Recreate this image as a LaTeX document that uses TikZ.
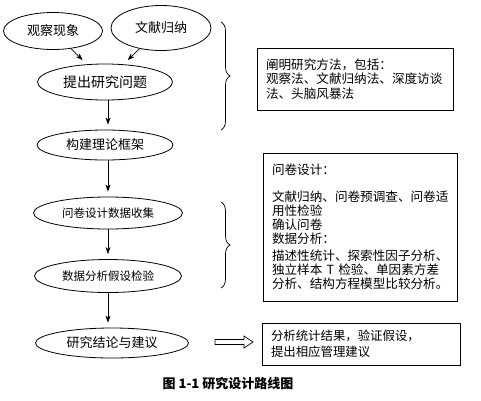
\documentclass[tikz,border=0pt]{standalone}
\usepackage{fontspec}
\setmainfont{Noto Sans CJK SC}
\usetikzlibrary{shapes.geometric,arrows.meta,decorations.pathreplacing,calc}
\begin{document}
\begin{tikzpicture}[x=1pt,y=-1pt,
  ell/.style={draw,ellipse,line width=0.8pt,inner sep=0pt},
  txtbox/.style={draw,rectangle,line width=0.8pt,align=left,inner xsep=9pt,inner ysep=0pt,
    font=\fontsize{12.6}{14.5}\selectfont},
  arr/.style={line width=0.7pt,-{Stealth[length=7pt,width=5pt,inset=2pt]},shorten >=5pt},
  brc/.style={line width=0.7pt,decorate,decoration={brace,amplitude=9pt}}]
\useasboundingbox (0,0) rectangle (481,400);

\node[ell,minimum width=99,minimum height=37,font=\fontsize{13}{13}\selectfont] (obs) at (53,31) {观察现象};
\node[ell,minimum width=100,minimum height=45,font=\fontsize{13}{13}\selectfont] (lit) at (161,28) {文献归纳};
\node[ell,minimum width=135,minimum height=36,font=\fontsize{14}{14}\selectfont] (ask) at (105,82) {提出研究问题};
\node[ell,minimum width=136,minimum height=30,font=\fontsize{13}{13}\selectfont] (build) at (105,145) {构建理论框架};
\node[ell,minimum width=149,minimum height=32,font=\fontsize{11.5}{11.5}\selectfont] (quest) at (108,213) {问卷设计数据收集};
\node[ell,minimum width=147,minimum height=33,font=\fontsize{11.5}{11.5}\selectfont] (anal) at (108,276) {数据分析假设检验};
\node[ell,minimum width=153,minimum height=30,font=\fontsize{13}{13}\selectfont] (conc) at (112,343) {研究结论与建议};

\coordinate (colx) at (108,0);
\draw[arr,shorten >=6pt] (obs) -- (ask);
\draw[arr,shorten >=6pt] (lit) -- (ask);
\draw[arr] (ask.south -| colx) -- (build.north -| colx);
\draw[arr] (build.south -| colx) -- (quest.north -| colx);
\draw[arr] (quest.south -| colx) -- (anal.north -| colx);
\draw[arr] (anal.south -| colx) -- (conc.north -| colx);

\node[txtbox,minimum width=196,minimum height=62,text width=178] (b1) at (355,79)
  {阐明研究方法，包括：\\观察法、文献归纳法、深度访谈\\法、头脑风暴法};
\node[txtbox,minimum width=194,minimum height=148,text width=176,
  font=\fontsize{12.6}{14}\selectfont] (b2) at (360,227)
  {问卷设计：\\[13pt]文献归纳、问卷预调查、问卷适\\用性检验\\确认问卷\\数据分析：\\[3pt]描述性统计、探索性因子分析、\\独立样本 T 检验、单因素方差\\分析、结构方程模型比较分析。\\[12pt]};
\node[txtbox,minimum width=198,minimum height=42,text width=180,
  font=\fontsize{12.4}{16}\selectfont] (b3) at (361,344)
  {分析统计结果，验证假设，\\提出相应管理建议};

\draw[brc] (221,22) -- (221,130);
\draw[brc] (221,202) -- (221,288);

\draw[line width=0.7pt] (215,339.5) -- (244,339.5) -- (244,336) -- (253,342) -- (244,348) -- (244,344.5) -- (215,344.5) -- cycle;

\node[font=\fontsize{13}{13}\selectfont\bfseries] (cap) at (228,384) {图 1-1 研究设计路线图};
\end{tikzpicture}
\end{document}
